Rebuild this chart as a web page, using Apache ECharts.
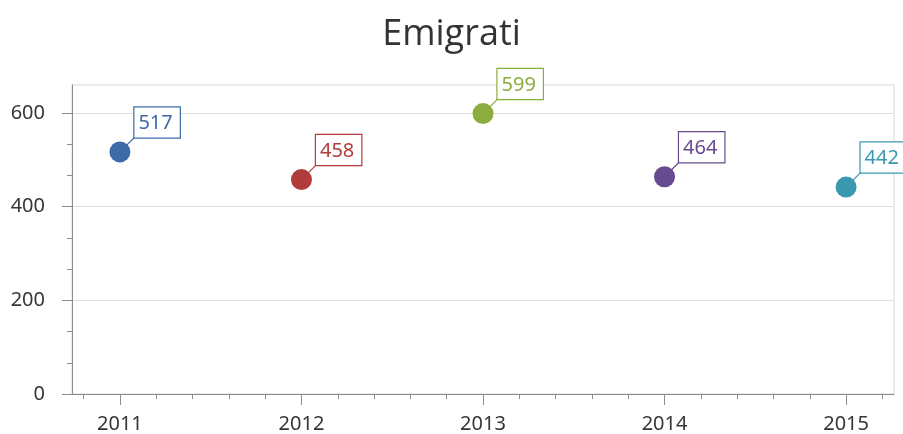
<!DOCTYPE html>
<html>
<head>
<meta charset="utf-8">
<script src="https://cdn.jsdelivr.net/npm/echarts@6/dist/echarts.min.js"></script>
<style>
  html, body { margin: 0; padding: 0; background: #fff; }
  #chart { width: 903px; height: 434px; }
</style>
</head>
<body>
<div id="chart"></div>
<script>
const years = [2011, 2012, 2013, 2014, 2015]
const emigrati = [517, 458, 599, 464, 442]
const yTicks = [0, 200, 400, 600]
const pointColors = ['#3d6aa8', '#b23b3b', '#8aad3d', '#684a90', '#3a99b0']

// minor ticks: 5 steps per year on x, 3 steps per 200 on y
const xMinor = []
for (let y = 2010; y <= 2015; y++) {
  for (let k = 1; k < 5; k++) {
    const v = y + k / 5
    if (v > 2010.736 && v < 2015.264) xMinor.push(v)
  }
}
const yMinor = []
for (let i = 0; i < yTicks.length; i++) {
  for (let k = 1; k < 3; k++) yMinor.push(yTicks[i] + k * 200 / 3)
}

const axisColor = '#8c8c8c'
const labelFont = { fontFamily: 'Noto Sans', fontSize: 20, color: '#363636' }

const chart = echarts.init(document.getElementById('chart'))
chart.setOption({
  animation: false,
  title: {
    text: 'Emigrati',
    left: 'center',
    top: 12,
    textStyle: { fontFamily: 'Open Sans', fontSize: 36, fontWeight: 'normal', color: '#333' }
  },
  grid: {
    left: 72, right: 9, top: 85, bottom: 40,
    show: true, borderColor: '#d9d9d9', borderWidth: 1
  },
  xAxis: [{
    type: 'value', min: 2010.736, max: 2015.264, position: 'bottom',
    axisLine: { lineStyle: { color: axisColor } },
    axisTick: { customValues: years, length: 11, lineStyle: { color: axisColor } },
    axisLabel: { customValues: years, margin: 20, formatter: v => String(v), ...labelFont },
    splitLine: { show: false }
  }, {
    type: 'value', min: 2010.736, max: 2015.264, position: 'bottom',
    axisLine: { show: false },
    axisTick: { customValues: xMinor, length: 5, lineStyle: { color: axisColor } },
    axisLabel: { show: false },
    splitLine: { show: false }
  }],
  yAxis: [{
    type: 'value', min: 0, max: 660, interval: 200, position: 'left',
    axisLine: { show: true, lineStyle: { color: axisColor } },
    axisTick: { show: true, customValues: yTicks, length: 10, lineStyle: { color: axisColor } },
    axisLabel: { customValues: yTicks, margin: 27, ...labelFont },
    splitLine: { lineStyle: { color: '#dedede' } }
  }, {
    type: 'value', min: 0, max: 660, position: 'left',
    axisLine: { show: false },
    axisTick: { show: true, customValues: yMinor, length: 5, lineStyle: { color: axisColor } },
    axisLabel: { show: false },
    splitLine: { show: false }
  }],
  series: [{
    type: 'custom',
    clip: false,
    data: years.map((y, i) => [y, emigrati[i]]),
    renderItem: function (params, api) {
      const p = api.coord([api.value(0), api.value(1)])
      const c = pointColors[params.dataIndex]
      const ax = p[0] + 14.5
      const ay = p[1] - 14.5
      return {
        type: 'group',
        children: [
          { type: 'line', shape: { x1: p[0], y1: p[1], x2: ax, y2: ay }, style: { stroke: c, lineWidth: 1.2 } },
          { type: 'circle', shape: { cx: p[0], cy: p[1], r: 10.5 }, style: { fill: c } },
          {
            type: 'text', x: ax, y: ay,
            style: {
              text: String(api.value(1)), fill: c,
              fontFamily: 'Noto Sans', fontSize: 20,
              align: 'left', verticalAlign: 'bottom',
              backgroundColor: '#fff', borderColor: c, borderWidth: 1.2,
              padding: [6, 7, 4, 4]
            }
          }
        ]
      }
    }
  }]
})
</script>
</body>
</html>
